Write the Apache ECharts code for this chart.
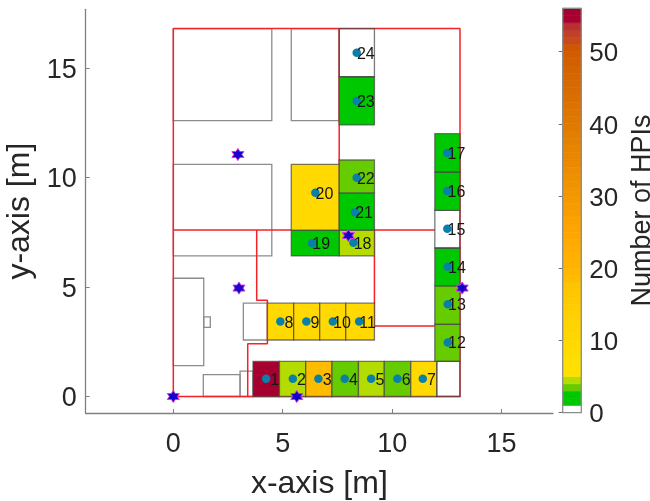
<!DOCTYPE html>
<html>
<head>
<meta charset="utf-8">
<style>html,body{margin:0;padding:0;background:#fff}#c{width:650px;height:501px}</style>
<script src="https://cdn.jsdelivr.net/npm/echarts@6/dist/echarts.min.js"></script>
</head>
<body>
<div id="c"></div>
<script>
var xTicks = [0, 5, 10, 15];
var yTicks = [0, 5, 10, 15];
var barTicks = [0, 10, 20, 30, 40, 50];
var xLimits = [-4.004, 17.35];
var yLimits = [-0.753, 17.68];
var barMax = 56;

// colour of each one-HPI band of the colour bar, from 0-1 upward
var bandColors = [
 '#ffffff','#00c800','#00c800','#66cc00','#b5dc00','#ffe000','#ffdf00','#ffde00','#ffdc00','#ffd900',
 '#ffd700','#ffd500','#ffd300','#ffd000','#ffcd00','#ffca00','#ffc700','#ffc400','#ffbb00','#ffb700',
 '#ffb300','#ffb000','#ffad00','#ffaa00','#ffa700','#ffa400','#fca100','#f99e00','#f79b00','#f59900',
 '#f39600','#f19300','#ef9000','#ed8d00','#eb8a00','#e98700','#e78400','#e58100','#e37e00','#e17b00',
 '#e07800','#de7500','#dc7200','#da6f00','#d86c00','#d66900','#d56600','#d46300','#d36000','#d25d00',
 '#d05600','#c8491a','#c0402a','#b83030','#a80030','#a50030'
];

// plain rooms: x0, x1, y0, y1
var plainRooms = [
 [0, 4.5, 12.6, 16.8],
 [5.39, 7.58, 12.6, 16.8],
 [0, 4.5, 6.42, 10.6],
 [0, 1.39, 1.41, 5.4],
 [1.39, 1.69, 3.16, 3.64],
 [1.37, 3.05, 0, 1.0],
 [3.05, 3.64, 0, 1.16],
 [3.2, 4.3, 2.58, 4.26]
];

// HPI rooms 1..24 in order
var roomX0 = [3.64,4.85,6.05,7.25,8.46,9.64,10.85, 4.3,5.5,6.69,7.88, 11.95,11.95,11.95,11.95,11.95,11.95, 7.58,5.39,5.39,7.58,7.58,7.58,7.58];
var roomX1 = [4.85,6.05,7.25,8.46,9.64,10.85,12.04, 5.5,6.69,7.88,9.19, 13.1,13.1,13.1,13.1,13.1,13.1, 9.19,7.58,7.58,9.19,9.19,9.19,9.19];
var roomY0 = [0,0,0,0,0,0,0, 2.58,2.58,2.58,2.58, 1.6,3.3,5.05,6.78,8.5,10.25, 6.42,6.42,7.6,7.6,9.3,12.4,14.6];
var roomY1 = [1.6,1.6,1.6,1.6,1.6,1.6,1.6, 4.26,4.26,4.26,4.26, 3.3,5.05,6.78,8.5,10.25,12.0, 7.6,7.6,10.6,9.3,10.8,14.6,16.8];
var roomHPIs = [56,4,18,3,4,3,9, 9,9,9,9, 3,3,2,0,2,2, 4,2,9,2,3,2,0];

// corner room with no number
var emptyRoom = [12.04, 13.1, 0, 1.6];

// measurement points 1..24
var pointX = [4.24,5.46,6.63,7.83,9.04,10.24,11.4, 4.89,6.08,7.29,8.49, 12.54,12.54,12.54,12.52,12.52,12.52, 8.23,6.34,6.49,8.3,8.38,8.38,8.38];
var pointY = [0.81,0.81,0.81,0.81,0.81,0.81,0.81, 3.42,3.42,3.42,3.42, 2.47,4.21,5.93,7.66,9.38,11.12, 7.02,7.0,9.3,8.41,9.99,13.49,15.7];

// anchors
var starX = [0, 5.64, 3.0, 2.95, 8.0, 13.2];
var starY = [0, 0, 4.95, 11.05, 7.35, 4.95];

// red walls
var redPaths = [
 [[0,0],[0,16.8],[13.1,16.8],[13.1,0],[0,0]],
 [[0,7.6],[11.95,7.6]],
 [[3.81,7.6],[3.81,4.39],[4.3,4.39],[4.3,2.41],[3.4,2.41],[3.4,0]],
 [[7.58,16.8],[7.58,7.6]],
 [[9.19,7.6],[9.19,3.22],[11.95,3.22]]
];

var FONT = '"Liberation Sans", Arial, sans-serif';
var AXIS = '#808080', TEXT = '#262626';
var STAR = 'path://M0,-10 L2.89,-5 L8.66,-5 L5.77,0 L8.66,5 L2.89,5 L0,10 L-2.89,5 L-8.66,5 L-5.77,0 L-8.66,-5 L-2.89,-5 Z';

function rectItem(fillOf, strokeOf, lw) {
  return function (params, api) {
    var a = api.coord([api.value(0), api.value(3)]);
    var b = api.coord([api.value(1), api.value(2)]);
    return {
      type: 'rect',
      shape: { x: a[0], y: a[1], width: b[0] - a[0], height: b[1] - a[1] },
      style: { fill: fillOf(api), stroke: strokeOf, lineWidth: lw }
    };
  };
}
function colorFor(v) { return bandColors[Math.min(v, bandColors.length - 1)]; }

var hpiData = roomHPIs.map(function (v, i) { return [roomX0[i], roomX1[i], roomY0[i], roomY1[i], v]; });
hpiData.push(emptyRoom.concat([0]));
var bandData = bandColors.map(function (c, i) { return [0, 1, i, i + 1, i]; });

var series = [{
  type: 'custom', xAxisIndex: 0, yAxisIndex: 0, z: 2, silent: true, clip: false,
  renderItem: rectItem(function () { return 'rgba(0,0,0,0)'; }, '#8c8c8c', 1.3),
  data: plainRooms
}];
redPaths.forEach(function (p) {
  series.push({
    type: 'line', xAxisIndex: 0, yAxisIndex: 0, z: 3, silent: true, showSymbol: false, clip: false,
    lineStyle: { color: '#f5222a', width: 1.5 }, data: p, animation: false
  });
});
series.push({
  type: 'custom', xAxisIndex: 0, yAxisIndex: 0, z: 4, silent: true, clip: false,
  renderItem: rectItem(function (api) {
    var v = api.value(4);
    return v === 0 ? 'rgba(255,255,255,0)' : colorFor(v);
  }, 'rgba(70,70,70,0.72)', 1.3),
  data: hpiData
});
series.push({
  type: 'scatter', xAxisIndex: 0, yAxisIndex: 0, z: 5, silent: true, clip: false,
  symbol: 'circle', symbolSize: 8.5,
  itemStyle: { color: '#0a80a8', opacity: 1 },
  data: pointX.map(function (x, i) {
    var name = String(i + 1);
    return {
      value: [x, pointY[i]],
      label: {
        show: true, position: 'right', formatter: name,
        distance: name.length > 1 ? -4 : 0, offset: [0, 1.5],
        fontFamily: FONT, fontSize: 16, color: '#161616'
      }
    };
  })
});
series.push({
  type: 'scatter', xAxisIndex: 0, yAxisIndex: 0, z: 6, silent: true, clip: false,
  symbol: STAR, symbolSize: 12,
  itemStyle: { color: '#1400c8', borderColor: '#e030f0', borderWidth: 1, opacity: 1 },
  data: starX.map(function (x, i) { return [x, starY[i]]; })
});
series.push({
  type: 'custom', xAxisIndex: 1, yAxisIndex: 1, z: 2, silent: true,
  renderItem: function (params, api) {
    var a = api.coord([0, api.value(3)]);
    var b = api.coord([1, api.value(2)]);
    var c = bandColors[api.value(4)];
    return {
      type: 'rect',
      shape: { x: a[0], y: a[1], width: b[0] - a[0], height: b[1] - a[1] },
      style: { fill: c, stroke: c, lineWidth: 0.6 }
    };
  },
  data: bandData
});
series.push({
  type: 'custom', xAxisIndex: 1, yAxisIndex: 1, z: 3, silent: true,
  renderItem: rectItem(function () { return 'rgba(0,0,0,0)'; }, '#8c8c8c', 1.3),
  data: [[0, 1, 0, barMax]]
});

var chart = echarts.init(document.getElementById('c'), null, { renderer: 'canvas' });
chart.setOption({
  animation: false,
  backgroundColor: '#ffffff',
  grid: [
    { left: 85.7, top: 9.3, width: 467.3, height: 403.7, containLabel: false, outerBoundsMode: 'none' },
    { left: 562.7, top: 8.3, width: 18.6, height: 404.4, containLabel: false, outerBoundsMode: 'none' }
  ],
  xAxis: [{
    type: 'value', gridIndex: 0, min: xLimits[0], max: xLimits[1], position: 'bottom',
    name: 'x-axis [m]', nameLocation: 'middle', nameGap: 55,
    nameTextStyle: { fontFamily: FONT, fontSize: 32, color: TEXT },
    splitLine: { show: false },
    axisLine: { onZero: false, lineStyle: { color: AXIS, width: 1.3 } },
    axisTick: { inside: true, length: 4, customValues: xTicks, lineStyle: { color: AXIS, width: 1 } },
    axisLabel: { customValues: xTicks, margin: 18, fontFamily: FONT, fontSize: 27, color: TEXT }
  }, {
    type: 'value', gridIndex: 1, min: 0, max: 1, show: false
  }],
  yAxis: [{
    type: 'value', gridIndex: 0, min: yLimits[0], max: yLimits[1], position: 'left',
    name: 'y-axis [m]', nameLocation: 'middle', nameGap: 48, nameRotate: 90,
    nameTextStyle: { fontFamily: FONT, fontSize: 32, color: TEXT },
    splitLine: { show: false },
    axisLine: { onZero: false, lineStyle: { color: AXIS, width: 1.3 } },
    axisTick: { inside: true, length: 4, customValues: yTicks, lineStyle: { color: AXIS, width: 1 } },
    axisLabel: { customValues: yTicks, margin: 9, verticalAlign: 'top', lineHeight: 5, fontFamily: FONT, fontSize: 27, color: TEXT }
  }, {
    type: 'value', gridIndex: 1, min: 0, max: barMax, position: 'right',
    name: 'Number of HPIs', nameLocation: 'middle', nameGap: 48, nameRotate: 90,
    nameTextStyle: { fontFamily: FONT, fontSize: 27, color: TEXT },
    splitLine: { show: false },
    axisLine: { show: false },
    axisTick: { inside: true, length: 4, customValues: barTicks, lineStyle: { color: '#707070', width: 1 } },
    axisLabel: { customValues: barTicks, margin: 8, verticalAlign: 'top', lineHeight: 5, fontFamily: FONT, fontSize: 26, color: TEXT }
  }],
  series: series
});
</script>
</body>
</html>
